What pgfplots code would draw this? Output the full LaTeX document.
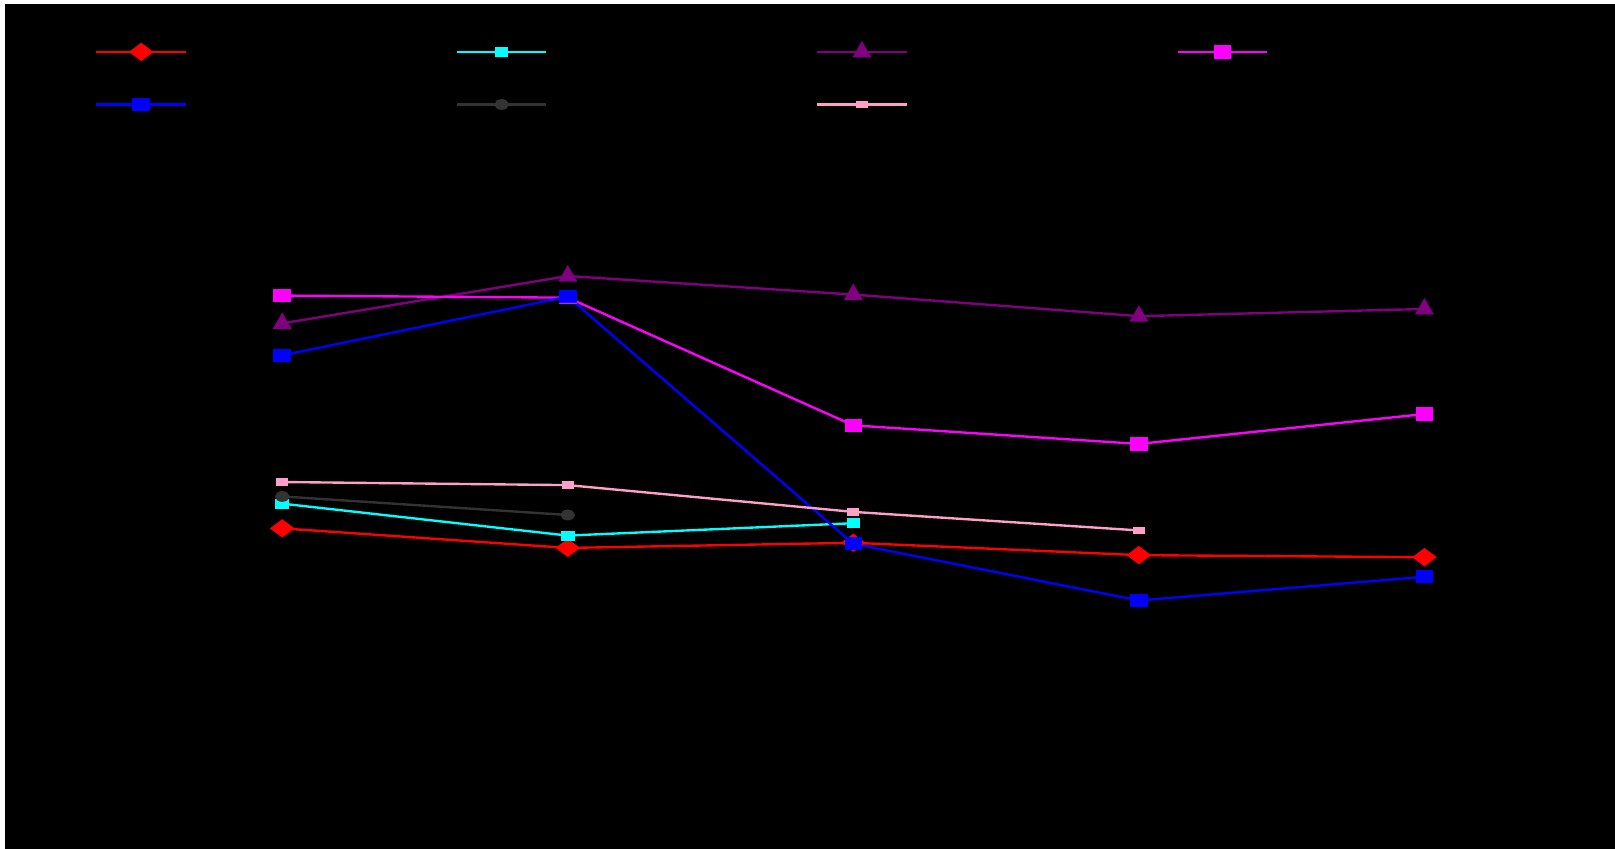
\documentclass[border=0pt]{standalone}
\usepackage{pgfplots}
\pgfplotsset{compat=1.18}
\definecolor{pinkline}{RGB}{255,160,200}
\definecolor{grayline}{RGB}{51,51,51}
\definecolor{purpleline}{RGB}{128,0,128}
\definecolor{cyanline}{RGB}{0,255,255}
\definecolor{magentaline}{RGB}{255,0,255}
\definecolor{blueline}{RGB}{0,0,255}
\definecolor{redline}{RGB}{255,0,0}
\begin{document}
\begin{tikzpicture}
\fill[white] (0,0) rectangle (784pt,412pt);
\fill[black] (2.4pt,0) rectangle (784pt,410pt);
\begin{axis}[
  at={(0pt,0pt)}, anchor=south west,
  scale only axis, width=784pt, height=412pt,
  hide axis,
  xmin=-0.9883, xmax=4.6673, ymin=0, ymax=824,
  xtick=data,
  clip=false,
  legend columns=4,
  legend cell align=left,
  legend style={at={(0.0587,0.9514)}, anchor=north west, draw=none, fill=black, text=black,
    inner sep=0pt, row sep=15.5pt,
    nodes={inner sep=0pt, minimum height=10pt, anchor=center},
    /tikz/every even column/.append style={column sep=0pt},
    /tikz/every odd column/.append style={column sep=0pt}},
  legend image code/.code={\draw[mark repeat=2,mark phase=2] plot coordinates {(0pt,0pt) (21.75pt,0pt) (43.5pt,0pt)};},
  every axis plot/.append style={line width=1.15pt},
]
\addplot[redline, mark=diamond*, mark size=5pt, mark options={rotate=90, solid}]
  coordinates {(0,311) (1,292) (2,297) (3,285) (4,283)};
\addlegendentry{\makebox[130.3pt][l]{Series 1}}
\addplot[cyanline, mark=square*, mark size=2.7pt, mark options={yscale=0.68}]
  coordinates {(0,335) (1,304) (2,316)};
\addlegendentry{\makebox[130.3pt][l]{Series 2}}
\addplot[purpleline, mark=triangle*, mark size=4.2pt]
  coordinates {(0,510) (1,556) (2,538) (3,517) (4,524)};
\addlegendentry{\makebox[130.3pt][l]{Series 3}}
\addplot[magentaline, mark=square*, mark size=3.7pt, mark options={yscale=0.72}]
  coordinates {(0,537) (1,535) (2,411) (3,393) (4,422)};
\addlegendentry{\makebox[130.3pt][l]{Series 4}}
\addplot[blueline, mark=square*, mark size=3.7pt, mark options={yscale=0.72}]
  coordinates {(0,479) (1,536) (2,296) (3,241) (4,264)};
\addlegendentry{\makebox[130.3pt][l]{Series 5}}
\addplot[grayline, mark=*, mark size=2.9pt, mark options={yscale=0.7}]
  coordinates {(0,342) (1,324)};
\addlegendentry{\makebox[130.3pt][l]{Series 6}}
\addplot[pinkline, mark=square*, mark size=1.2pt, mark options={xscale=2}]
  coordinates {(0,356) (1,353) (2,327) (3,309)};
\addlegendentry{\makebox[130.3pt][l]{Series 7}}
\end{axis}
\end{tikzpicture}
\end{document}
